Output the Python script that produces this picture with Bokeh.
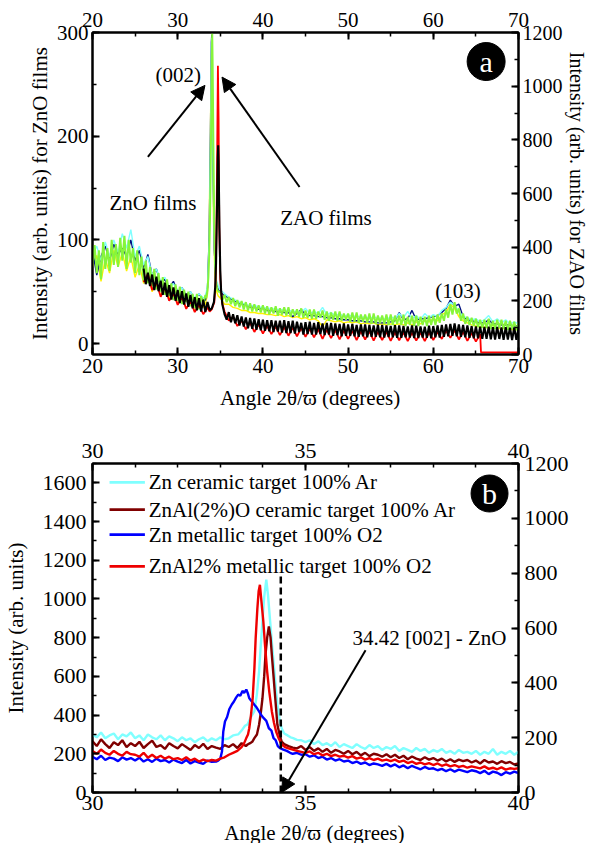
import numpy as np
from bokeh.plotting import figure
from bokeh.models import (Range1d, LinearAxis, SingleIntervalTicker, ColumnDataSource,
                          Arrow, NormalHead)
from bokeh.layouts import column
from bokeh.core.properties import value
from bokeh.embed import file_html
from bokeh.resources import INLINE

FONT = "Liberation Serif"
XLABEL = "Angle  2\u03b8/\u03d6 (degrees)"

# ---------------- Panel (a) data ----------------
a_fine_x = np.arange(20, 70.001, 0.25)
a_coarse_x = np.arange(20, 70.001, 0.5)

green = [
    75, 95, 68, 90, 62, 98, 72, 92, 70, 100, 76, 96, 74, 102, 80, 104,
    72, 100, 78, 92, 68, 90, 66, 84, 60, 80, 58, 74, 55, 72, 52, 68,
    50, 64, 47, 62, 46, 58, 42, 57, 41, 55, 38, 52, 40, 50, 36, 48,
    34, 48, 33, 46, 38, 47, 52, 85, 270, 180, 75, 52, 50, 42, 47, 40,
    45, 38, 44, 36, 42, 35, 41, 33, 40, 32, 39, 31, 38, 31, 37, 30,
    37, 29, 36, 28, 35, 29, 36, 27, 34, 28, 35, 27, 35, 26, 33, 27,
    33, 26, 34, 25, 32, 25, 33, 24, 33, 24, 31, 25, 32, 23, 31, 22,
    30, 23, 31, 22, 31, 22, 29, 23, 29, 21, 30, 21, 30, 20, 28, 21,
    28, 20, 29, 19, 29, 19, 27, 20, 27, 19, 28, 18, 28, 18, 27, 19,
    27, 18, 28, 17, 26, 18, 27, 17, 27, 17, 26, 18, 26, 17, 27, 18,
    27, 18, 28, 20, 29, 22, 33, 25, 38, 28, 40, 29, 34, 22, 29, 19,
    26, 18, 25, 17, 24, 16, 23, 15, 23, 15, 24, 14, 22, 14, 23, 15,
    23, 14, 22, 13, 22, 14, 21, 13, 20]
green_peak_x = [33.35, 33.5, 33.6, 33.7, 33.8, 33.9, 34.0, 34.05, 34.1, 34.2, 34.3, 34.4, 34.5, 34.65, 34.8]
green_peak_y = [44, 52, 64, 85, 125, 190, 270, 299, 270, 180, 110, 75, 60, 52, 50]

cyan_a = [
    86, 94, 80, 98, 84, 100, 88, 106, 92, 110, 84, 94, 76, 84, 66, 72,
    60, 64, 54, 58, 50, 54, 46, 50, 44, 48, 44, 60, 250, 62, 52, 48,
    45, 43, 41, 39, 38, 36, 37, 35, 35, 34, 34, 33, 33, 32, 32, 31,
    31, 30, 34, 29, 31, 29, 35, 28, 30, 27, 29, 26, 28, 26, 27, 25,
    26, 24, 26, 24, 25, 23, 26, 24, 29, 25, 31, 24, 27, 23, 29, 25,
    28, 26, 32, 35, 40, 37, 31, 26, 25, 23, 24, 21, 23, 27, 21, 24,
    20, 23, 19, 21, 19]
cyan_a_peak_x = [33.25, 33.5, 33.7, 33.85, 33.95, 34.0, 34.1, 34.2, 34.35, 34.5, 34.75]
cyan_a_peak_y = [45, 56, 100, 200, 285, 295, 220, 140, 80, 62, 56]

yellow_a = [
    74, 85, 60, 82, 68, 90, 74, 88, 70, 84, 64, 76, 58, 68, 50, 60,
    46, 54, 44, 48, 38, 46, 34, 40, 31, 38, 35, 48, 250, 52, 44, 38,
    38, 35, 34, 32, 32, 30, 30, 29, 29, 28, 28, 27, 28, 26, 27, 25,
    26, 24, 25, 23, 24, 22, 16, 23, 22, 21, 22, 20, 21, 20, 21, 19,
    20, 19, 20, 18, 19, 18, 19, 18, 19, 18, 20, 18, 21, 19, 22, 21,
    24, 22, 28, 30, 38, 34, 26, 22, 20, 18, 17, 16, 16, 15, 18, 14,
    15, 14, 14, 13, 14]
yellow_a_peak_x = [33.25, 33.5, 33.65, 33.8, 33.95, 34.0, 34.1, 34.2, 34.35, 34.5, 34.75]
yellow_a_peak_y = [38, 48, 90, 180, 280, 290, 200, 120, 70, 52, 46]

navy_a = [
    90, 66, 84, 94, 80, 96, 86, 92, 84, 100, 80, 90, 72, 86, 66, 72,
    58, 62, 54, 60, 50, 54, 46, 50, 43, 48, 42, 54, 298, 60, 50, 46,
    44, 42, 40, 38, 37, 35, 35, 33, 34, 32, 32, 31, 31, 30, 30, 26,
    29, 33, 28, 27, 27, 26, 26, 25, 25, 24, 24, 23, 23, 22, 22, 22,
    21, 21, 21, 20, 20, 20, 21, 22, 30, 23, 24, 32, 23, 24, 24, 25,
    26, 27, 30, 34, 42, 36, 38, 26, 23, 22, 21, 20, 20, 23, 19, 19,
    18, 18, 18, 17, 17]
navy_a_peak_x = [33.25, 33.5, 33.7, 33.85, 33.95, 34.0, 34.05, 34.15, 34.3, 34.5, 34.75]
navy_a_peak_y = [42, 54, 105, 205, 290, 298, 260, 170, 90, 60, 52]

# ZAO films (right axis)
zao_black_x = np.arange(26, 70.001, 0.25)
zao_red_x = np.arange(26, 65.501, 0.5)
black_a = [
    320, 262, 305, 255, 298, 240, 290, 236, 275, 222, 268, 215, 258, 205, 250, 200,
    240, 192, 236, 186, 228, 178, 222, 172, 214, 165, 210, 160, 204, 158, 196, 170,
    172, 200, 340, 780, 310, 185, 150, 130, 158, 120, 150, 116, 146, 108, 142, 104,
    138, 98, 136, 96, 134, 92, 132, 90, 130, 88, 128, 86, 128, 84, 126, 86,
    126, 82, 128, 80, 124, 80, 126, 78, 122, 84, 118, 74, 120, 76, 122, 74,
    118, 74, 120, 76, 116, 72, 118, 74, 118, 70, 116, 72, 114, 68, 116, 70,
    112, 70, 114, 68, 110, 66, 112, 68, 112, 64, 110, 66, 108, 66, 111, 64,
    110, 63, 108, 65, 106, 64, 109, 62, 108, 62, 106, 64, 105, 63, 108, 61,
    107, 61, 105, 63, 104, 62, 107, 60, 106, 64, 108, 63, 110, 66, 112, 68,
    114, 70, 116, 68, 112, 66, 110, 64, 108, 62, 106, 60, 105, 60, 104, 58,
    103, 58, 104, 57, 102, 56, 103, 58, 101, 55, 102, 56, 100, 54, 101, 55, 98]
black_peak_x = [33.75, 34.0, 34.25, 34.4, 34.5, 34.6, 34.7, 34.75, 34.8, 34.9, 35.0, 35.1, 35.25, 35.5]
black_peak_y = [165, 172, 195, 250, 340, 520, 730, 780, 720, 470, 310, 235, 185, 150]

red_a = [
    270, 300, 240, 270, 215, 250, 200, 230, 185, 215, 170, 200, 158, 185, 150, 175,
    170, 460, 280, 160, 126, 141, 106, 126, 94, 118, 84, 112, 78, 106, 76, 104,
    72, 102, 70, 100, 68, 98, 66, 96, 64, 94, 58, 92, 61, 90, 56, 89,
    58, 88, 54, 86, 56, 86, 52, 84, 54, 84, 51, 82, 53, 82, 50, 81,
    52, 81, 50, 82, 54, 84, 58, 88, 62, 90, 56, 84, 51, 80, 48, 76]
red_peak_x = [33.75, 34.0, 34.3, 34.45, 34.55, 34.65, 34.72, 34.8, 34.88, 35.0, 35.2, 35.5]
red_peak_y = [160, 168, 195, 270, 460, 820, 1076, 880, 480, 280, 195, 160]
red_tail_x = [65.6, 70.0]
red_tail_y = [8, 8]

a_text_x = [30.07, 27.1, 47.4, 62.9]
a_text_y = [259, 135.5, 121, 51]
a_text = ["(002)", "ZnO films", "ZAO films", "(103)"]
a_arrows = [(26.5, 180, 33.2, 249), (44.3, 151, 35.2, 257)]
a_badge = (66.2, 272, "a")

# ---------------- Panel (b) data ----------------
b_x = np.round(30 + 0.1 * np.arange(101), 2)
cyan_b = [
    300, 285, 310, 280, 295, 305, 275, 300, 290, 310,
    280, 295, 270, 300, 285, 275, 295, 270, 290, 280,
    265, 285, 270, 280, 260, 275, 285, 265, 280, 270,
    285, 275, 290, 300, 330, 380, 460, 560, 700, 850,
    1000, 1050, 850, 650, 480, 380, 320, 300, 280, 270,
    260, 270, 250, 265, 245, 255, 240, 260, 235, 250,
    240, 230, 250, 235, 225, 245, 230, 240, 220, 235,
    225, 240, 215, 230, 220, 210, 230, 215, 225, 205,
    220, 210, 225, 205, 215, 200, 220, 205, 210, 200,
    215, 195, 210, 200, 225, 195, 210, 200, 215, 195,
    210]
cyan_b_peak_x = [33.2, 33.3, 33.42, 33.5, 33.58, 33.64, 33.72, 33.8, 33.86, 33.91, 33.95, 33.99, 34.03,
                 34.08, 34.12, 34.17, 34.22, 34.27, 34.31, 34.34, 34.39, 34.44, 34.5, 34.58, 34.65, 34.71, 34.8]
cyan_b_peak_y = [280, 295, 300, 320, 345, 352, 390, 420, 510, 625, 760, 884, 1010,
                 1100, 1020, 884, 750, 625, 520, 455, 380, 332, 305, 295, 285, 281, 272]

dred_b = [
    265, 240, 275, 250, 230, 260, 245, 270, 235, 255,
    240, 262, 230, 250, 268, 235, 245, 225, 255, 240,
    228, 250, 235, 220, 245, 230, 252, 225, 240, 232,
    225, 245, 235, 250, 230, 255, 240, 260, 300, 400,
    500, 800, 600, 400, 280, 250, 235, 245, 228, 240,
    220, 235, 215, 228, 210, 225, 205, 220, 212, 200,
    215, 198, 210, 192, 205, 188, 200, 195, 185, 198,
    182, 195, 178, 190, 172, 186, 175, 168, 182, 170,
    178, 165, 175, 160, 172, 158, 170, 162, 168, 155,
    165, 150, 168, 155, 160, 148, 162, 152, 158, 145,
    150]
dred_b_peak_x = [33.6, 33.64, 33.7, 33.75, 33.8, 33.86, 33.91, 33.95, 33.99, 34.03, 34.06, 34.1,
                 34.14, 34.18, 34.21, 34.25, 34.29, 34.34, 34.39, 34.44, 34.5, 34.6, 34.7]
dred_b_peak_y = [240, 248, 255, 262, 281, 300, 350, 410, 487, 600, 711, 800,
                 858, 800, 711, 600, 487, 350, 300, 263, 250, 240, 232]

blue_b = [
    185, 172, 190, 168, 180, 175, 162, 182, 170, 178,
    165, 180, 160, 172, 158, 175, 162, 168, 155, 170,
    160, 152, 168, 150, 162, 155, 148, 165, 158, 160,
    200, 350, 430, 460, 500, 510, 520, 480, 450, 420,
    390, 350, 310, 270, 235, 220, 210, 200, 205, 195,
    198, 185, 192, 178, 185, 170, 178, 165, 172, 160,
    165, 152, 160, 148, 155, 142, 150, 145, 138, 148,
    135, 145, 130, 140, 125, 138, 128, 120, 132, 122,
    125, 115, 122, 110, 120, 108, 118, 112, 105, 115,
    110, 100, 112, 95, 108, 102, 90, 105, 98, 108,
    100]
blue_b_peak_x = [32.95, 33.0, 33.04, 33.07, 33.11, 33.16, 33.21, 33.27, 33.32, 33.37, 33.42, 33.47,
                 33.52, 33.56, 33.61, 33.65, 33.68, 33.74, 33.8, 33.85, 33.91, 33.96, 34.02, 34.08,
                 34.14, 34.2, 34.25, 34.3, 34.35, 34.4, 34.48, 34.56, 34.64, 34.7]
blue_b_peak_y = [165, 175, 212, 315, 367, 390, 430, 455, 470, 490, 506, 500,
                 525, 515, 532, 510, 487, 470, 453, 440, 419, 400, 384, 370,
                 332, 320, 281, 270, 240, 229, 222, 215, 205, 200]

red_b = [
    215, 200, 222, 205, 195, 215, 200, 190, 210, 198,
    195, 185, 205, 180, 195, 178, 190, 175, 185, 172,
    178, 168, 182, 165, 175, 160, 170, 162, 168, 165,
    175, 182, 195, 205, 215, 235, 250, 300, 600, 1000,
    900, 600, 420, 320, 250, 235, 230, 222, 215, 210,
    205, 212, 198, 205, 192, 200, 188, 195, 185, 190,
    180, 188, 175, 182, 170, 178, 168, 175, 165, 170,
    162, 170, 158, 165, 152, 160, 148, 155, 145, 152,
    142, 150, 138, 145, 135, 142, 132, 138, 128, 135,
    130, 125, 135, 122, 128, 120, 130, 118, 125, 122,
    125]
red_b_peak_x = [33.5, 33.55, 33.61, 33.65, 33.68, 33.72, 33.76, 33.8, 33.83, 33.87, 33.9, 33.93,
                33.96, 34.01, 34.05, 34.1, 34.15, 34.21, 34.26, 34.31, 34.37, 34.44, 34.52, 34.6]
red_b_peak_y = [235, 250, 281, 300, 332, 400, 487, 640, 797, 950, 1040, 1073,
                1000, 884, 760, 625, 520, 419, 360, 315, 280, 248, 235, 228]

b_labels = ["Zn ceramic target 100% Ar", "ZnAl(2%)O ceramic target 100% Ar",
            "Zn metallic target 100% O2", "ZnAl2% metallic target 100% O2"]
b_colors = ["#80FFFF", "#800000", "#0000FF", "#EE0000"]
leg_x0, leg_x1, leg_text_x = 30.40, 31.23, 31.32
leg_y = [1602, 1462, 1333, 1168]

zno_ref_angle = 34.42
zno_ref_top = 1130
b_text = ("34.42 [002] - ZnO", 37.91, 799)
b_arrow = (36.41, 735, 34.44, 0)
b_badge = (39.32, 1545, "b")


def merge(grid, vals, px, py, tail_x=None, tail_y=None):
    grid = np.round(np.asarray(grid, float), 3)
    vals = np.asarray(vals, float)
    assert len(grid) == len(vals), (len(grid), len(vals))
    keep = (grid < px[0] - 1e-9) | (grid > px[-1] + 1e-9)
    x = np.concatenate([grid[keep], np.asarray(px, float)])
    y = np.concatenate([vals[keep], np.asarray(py, float)])
    o = np.argsort(x, kind="stable")
    x, y = x[o], y[o]
    if tail_x is not None:
        x = np.concatenate([x, tail_x])
        y = np.concatenate([y, tail_y])
    return x, y


def style_axis(ax, interval, minor, size="21px", standoff=4, label_standoff=4, label_size="21px"):
    ax.ticker = SingleIntervalTicker(interval=interval, num_minor_ticks=minor)
    ax.axis_line_width = 2
    ax.axis_line_color = "black"
    ax.major_tick_in = 7
    ax.major_tick_out = 0
    ax.minor_tick_in = 4
    ax.minor_tick_out = 0
    ax.major_tick_line_width = 2
    ax.minor_tick_line_width = 1.5
    ax.major_tick_line_color = "black"
    ax.minor_tick_line_color = "black"
    ax.major_label_text_font = FONT
    ax.major_label_text_font_size = size
    ax.major_label_text_color = "black"
    ax.major_label_standoff = standoff
    ax.axis_label_text_font = FONT
    ax.axis_label_text_font_size = label_size
    ax.axis_label_text_font_style = "normal"
    ax.axis_label_text_color = "black"
    ax.axis_label_standoff = label_standoff


def base_fig(w, h, xr, yr, ml, mr, mt, mb):
    p = figure(width=w, height=h, x_range=xr, y_range=yr, output_backend="svg",
               toolbar_location=None, min_border_left=ml, min_border_right=mr,
               min_border_top=mt, min_border_bottom=mb)
    p.grid.visible = False
    p.outline_line_color = "black"
    p.outline_line_width = 2
    p.background_fill_color = "white"
    p.border_fill_color = "white"
    return p


def title_strip(h, cx, text):
    # x-axis title drawn as a text glyph in a strip under the panel (pixel coordinates)
    s = figure(width=590, height=h, x_range=Range1d(0, 590), y_range=Range1d(0, h),
               output_backend="svg", toolbar_location=None, x_axis_location=None,
               y_axis_location=None, min_border=0)
    s.grid.visible = False
    s.outline_line_color = None
    s.background_fill_color = "white"
    s.border_fill_color = "white"
    s.text([cx], [h / 2], text=[text], text_font=value(FONT), text_font_size="21px",
           text_align="center", text_baseline="middle", text_color="black")
    return s


# ---------------- Panel (a) ----------------
pa = base_fig(590, 384, Range1d(20, 70), Range1d(-10.5, 300), 88, 67, 32, 30)
pa.extra_y_ranges = {"zao": Range1d(0, 1200)}
style_axis(pa.xaxis[0], 10, 2)
style_axis(pa.yaxis[0], 100, 2, label_standoff=2)
pa.yaxis[0].axis_label = "Intensity (arb. units) for ZnO films"
top_a = LinearAxis()
style_axis(top_a, 10, 2, standoff=6)
pa.add_layout(top_a, "above")
right_a = LinearAxis(y_range_name="zao", axis_label="Intensity (arb. units) for ZAO films")
style_axis(right_a, 200, 2, size="20px", standoff=4, label_standoff=0, label_size="20px")
pa.add_layout(right_a, "right")

for vals, px, py, grid, col, lw in [
    (yellow_a, yellow_a_peak_x, yellow_a_peak_y, a_coarse_x, "#FFF200", 1.4),
    (navy_a, navy_a_peak_x, navy_a_peak_y, a_coarse_x, "#001080", 1.4),
    (cyan_a, cyan_a_peak_x, cyan_a_peak_y, a_coarse_x, "#7FFFFF", 1.4),
    (green, green_peak_x, green_peak_y, a_fine_x, "#86F53A", 2.0),
]:
    x, y = merge(grid, vals, px, py)
    pa.line(x, y, line_color=col, line_width=lw)

xr_, yr_ = merge(zao_red_x, red_a, red_peak_x, red_peak_y, red_tail_x, red_tail_y)
pa.line(xr_, yr_, line_color="#FF0000", line_width=1.8, y_range_name="zao")
xb_, yb_ = merge(zao_black_x, black_a, black_peak_x, black_peak_y)
pa.line(xb_, yb_, line_color="black", line_width=2.1, y_range_name="zao")

pa.text(x="x", y="y", text="t", source=ColumnDataSource(dict(x=a_text_x, y=a_text_y, t=a_text)),
        text_font=value(FONT), text_font_size="21px", text_align="center",
        text_baseline="middle", text_color="black")
for x0, y0, x1, y1 in a_arrows:
    pa.add_layout(Arrow(end=NormalHead(size=14, fill_color="black", line_color="black"),
                        x_start=x0, y_start=y0, x_end=x1, y_end=y1,
                        line_width=2, line_color="black"))
pa.scatter([a_badge[0]], [a_badge[1]], marker="circle", size=38, fill_color="black", line_color="black")
pa.text([a_badge[0]], [a_badge[1]], text=[a_badge[2]], text_font=value(FONT), text_font_size="30px",
        text_align="center", text_baseline="middle", text_color="white")

ta = title_strip(27, 305, XLABEL)

# ---------------- Panel (b) ----------------
pb = base_fig(590, 410, Range1d(30, 40), Range1d(0, 1700), 92, 59, 52, 29)
pb.extra_y_ranges = {"r": Range1d(0, 1200)}
style_axis(pb.xaxis[0], 5, 5, size="22px", standoff=3)
style_axis(pb.yaxis[0], 200, 2, size="22px", standoff=6, label_standoff=12)
pb.yaxis[0].axis_label = "Intensity (arb. units)"
top_b = LinearAxis()
style_axis(top_b, 5, 5, size="22px", standoff=6)
pb.add_layout(top_b, "above")
right_b = LinearAxis(y_range_name="r")
style_axis(right_b, 200, 2, size="22px", standoff=6)
pb.add_layout(right_b, "right")

for vals, px, py, col in [
    (cyan_b, cyan_b_peak_x, cyan_b_peak_y, b_colors[0]),
    (dred_b, dred_b_peak_x, dred_b_peak_y, b_colors[1]),
    (blue_b, blue_b_peak_x, blue_b_peak_y, b_colors[2]),
    (red_b, red_b_peak_x, red_b_peak_y, b_colors[3]),
]:
    x, y = merge(b_x, vals, px, py)
    pb.line(x, y, line_color=col, line_width=2.4)

pb.segment(x0=[leg_x0] * 4, y0=leg_y, x1=[leg_x1] * 4, y1=leg_y,
           line_color=b_colors, line_width=2.8)
pb.text(x=[leg_text_x] * 4, y=leg_y, text=b_labels, text_font=value(FONT), text_font_size="21px",
        text_align="left", text_baseline="middle", text_color="black")

pb.segment(x0=[zno_ref_angle], y0=[0], x1=[zno_ref_angle], y1=[zno_ref_top],
           line_color="black", line_width=2.5, line_dash="7 4")
pb.text([b_text[1]], [b_text[2]], text=[b_text[0]], text_font=value(FONT), text_font_size="21px",
        text_align="center", text_baseline="middle", text_color="black")
pb.add_layout(Arrow(end=NormalHead(size=14, fill_color="black", line_color="black"),
                    x_start=b_arrow[0], y_start=b_arrow[1], x_end=b_arrow[2], y_end=b_arrow[3],
                    line_width=2, line_color="black"))
pb.scatter([b_badge[0]], [b_badge[1]], marker="circle", size=37, fill_color="black", line_color="black")
pb.text([b_badge[0]], [b_badge[1]], text=[b_badge[2]], text_font=value(FONT), text_font_size="30px",
        text_align="center", text_baseline="middle", text_color="white")

tb = title_strip(22, 311, XLABEL)

layout = column(pa, ta, pb, tb)
open("out.html", "w").write(file_html(layout, INLINE))
